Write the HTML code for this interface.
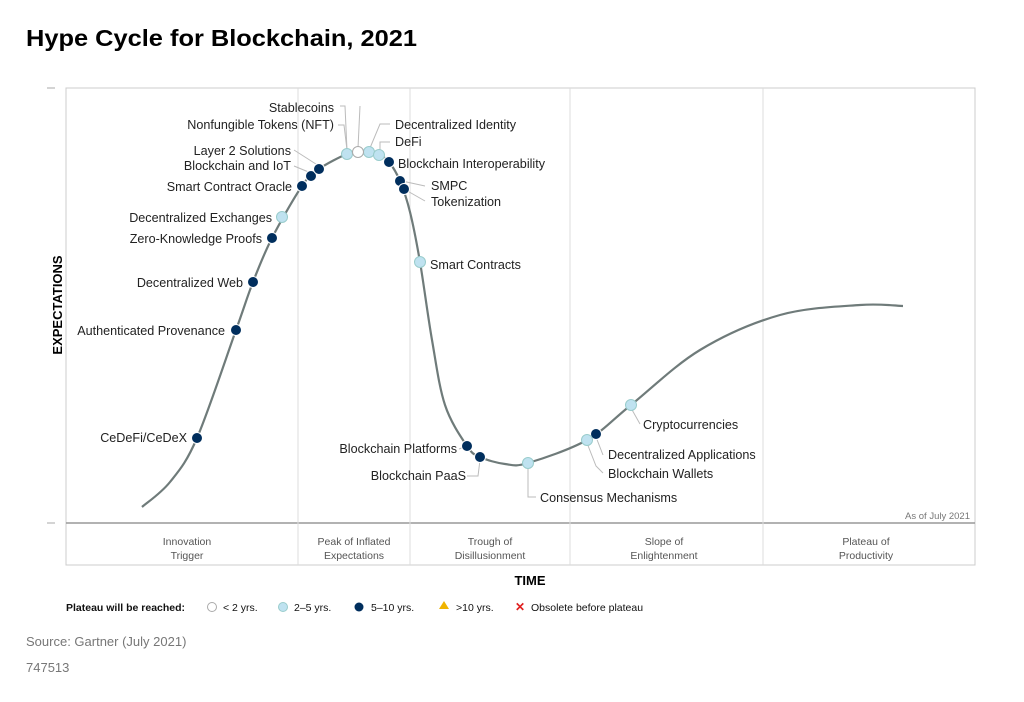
<!DOCTYPE html>
<html><head><meta charset="utf-8"><style>
body{margin:0;background:#fff;width:1024px;height:697px;overflow:hidden;font-family:"Liberation Sans",sans-serif}
</style></head><body>
<svg width="1024" height="697" viewBox="0 0 1024 697" xmlns="http://www.w3.org/2000/svg" font-family="Liberation Sans, sans-serif">
<text x="26" y="46" font-size="23.5" font-weight="bold" fill="#000" textLength="391" lengthAdjust="spacingAndGlyphs">Hype Cycle for Blockchain, 2021</text>
<rect x="66" y="88" width="909" height="477" fill="none" stroke="#ccc" stroke-width="1"/>
<line x1="66" y1="523" x2="975" y2="523" stroke="#999" stroke-width="1.5"/>
<line x1="47" y1="88" x2="55" y2="88" stroke="#aaa"/>
<line x1="47" y1="523" x2="55" y2="523" stroke="#aaa"/>
<g stroke="#ddd" stroke-width="1">
<line x1="298" y1="88" x2="298" y2="565"/>
<line x1="410" y1="88" x2="410" y2="565"/>
<line x1="570" y1="88" x2="570" y2="565"/>
<line x1="763" y1="88" x2="763" y2="565"/>
</g>
<text x="970" y="519" font-size="9.5" fill="#777" text-anchor="end">As of July 2021</text>
<g font-size="10.5" fill="#555" text-anchor="middle">
<text x="187" y="545">Innovation</text><text x="187" y="559">Trigger</text>
<text x="354" y="545">Peak of Inflated</text><text x="354" y="559">Expectations</text>
<text x="490" y="545">Trough of</text><text x="490" y="559">Disillusionment</text>
<text x="664" y="545">Slope of</text><text x="664" y="559">Enlightenment</text>
<text x="866" y="545">Plateau of</text><text x="866" y="559">Productivity</text>
</g>
<text x="530" y="585" font-size="13" font-weight="bold" text-anchor="middle">TIME</text>
<text transform="translate(62,305) rotate(-90)" font-size="13" font-weight="bold" text-anchor="middle">EXPECTATIONS</text>
<path id="curve" fill="none" stroke="#6f7b7a" stroke-width="2.2" d=""/>
<g stroke="#bbb" fill="none" stroke-width="1">
<polyline points="340,106 345,106 347,150"/>
<polyline points="338,125 344,125 347,150"/>
<polyline points="360,106 358,148"/>
<polyline points="390,124 380,124 370,148"/>
<polyline points="390,142 380,142 380,151"/>
<polyline points="294,150 319,166"/>
<polyline points="294,166 311,173"/>
<polyline points="402,181 425,186"/>
<polyline points="404,189 425,201"/>
<polyline points="459,449 467,446"/>
<polyline points="467,476 478,476 480,460"/>
<polyline points="536,497 528,497 528,466"/>
<polyline points="603,455 596,437"/>
<polyline points="603,473 596,466 587,443"/>
<polyline points="640,424 631,408"/>
</g>
<g stroke="#fff" stroke-width="1">
<g fill="#002e5d">
<circle cx="197" cy="438" r="5.5"/><circle cx="236" cy="330" r="5.5"/><circle cx="253" cy="282" r="5.5"/><circle cx="272" cy="238" r="5.5"/>
<circle cx="302" cy="186" r="5.5"/><circle cx="311" cy="176" r="5.5"/><circle cx="319" cy="169" r="5.5"/>
<circle cx="389" cy="162" r="5.5"/><circle cx="400" cy="181" r="5.5"/><circle cx="404" cy="189" r="5.5"/>
<circle cx="467" cy="446" r="5.5"/><circle cx="480" cy="457" r="5.5"/><circle cx="596" cy="434" r="5.5"/>
</g>
<g fill="#bfe2f0" stroke="#9cc">
<circle cx="282" cy="217" r="5.5"/><circle cx="347" cy="154" r="5.5"/><circle cx="369" cy="152" r="5.5"/><circle cx="379" cy="155" r="5.5"/>
<circle cx="420" cy="262" r="5.5"/><circle cx="528" cy="463" r="5.5"/><circle cx="587" cy="440" r="5.5"/><circle cx="631" cy="405" r="5.5"/>
</g>
<circle cx="358" cy="152" r="5.5" fill="#fff" stroke="#aaa"/>
</g>
<g font-size="12.6" fill="#222">
<g text-anchor="end">
<text x="187" y="442">CeDeFi/CeDeX</text>
<text x="225" y="335">Authenticated Provenance</text>
<text x="243" y="287">Decentralized Web</text>
<text x="262" y="243">Zero-Knowledge Proofs</text>
<text x="272" y="222">Decentralized Exchanges</text>
<text x="292" y="191">Smart Contract Oracle</text>
<text x="291" y="170">Blockchain and IoT</text>
<text x="291" y="155">Layer 2 Solutions</text>
<text x="334" y="129">Nonfungible Tokens (NFT)</text>
<text x="334" y="112">Stablecoins</text>
<text x="457" y="453">Blockchain Platforms</text>
<text x="466" y="480">Blockchain PaaS</text>
</g>
<text x="395" y="129">Decentralized Identity</text>
<text x="395" y="146">DeFi</text>
<text x="398" y="168">Blockchain Interoperability</text>
<text x="431" y="190">SMPC</text>
<text x="431" y="206">Tokenization</text>
<text x="430" y="269">Smart Contracts</text>
<text x="540" y="502">Consensus Mechanisms</text>
<text x="608" y="459">Decentralized Applications</text>
<text x="608" y="478">Blockchain Wallets</text>
<text x="643" y="429">Cryptocurrencies</text>
</g>
<g font-size="10.5" fill="#111">
<text x="66" y="611" font-weight="bold">Plateau will be reached:</text>
<circle cx="212" cy="607" r="4.5" fill="#fff" stroke="#aaa"/><text x="223" y="611">&lt; 2 yrs.</text>
<circle cx="283" cy="607" r="4.5" fill="#bfe2f0" stroke="#9cc"/><text x="294" y="611">2–5 yrs.</text>
<circle cx="359" cy="607" r="4.5" fill="#002e5d"/><text x="371" y="611">5–10 yrs.</text>
<polygon points="444,601 449,609 439,609" fill="#f0b400"/><text x="456" y="611">&gt;10 yrs.</text>
<text x="515" y="611" fill="#e02020" font-weight="bold" font-size="12">✕</text><text x="531" y="611">Obsolete before plateau</text>
</g>
<text x="26" y="646" font-size="13" fill="#777">Source: Gartner (July 2021)</text>
<text x="26" y="672" font-size="13" fill="#777">747513</text>
</svg>
<script>
var p=[[142,507],[170,482],[197,438],[236,330],[253,282],[272,238],[302,186],[319,169],[347,154],[363,151],[379,155],[389,162],[400,181],[410,212],[420,262],[432,340],[445,405],[467,446],[480,457],[505,464],[528,463],[587,440],[631,405],[700,350],[780,315],[860,305],[903,306]];
var d="M"+p[0][0]+","+p[0][1];
for(var i=0;i<p.length-1;i++){var a=p[Math.max(i-1,0)],b=p[i],c=p[i+1],e=p[Math.min(i+2,p.length-1)];
d+=" C"+(b[0]+(c[0]-a[0])/6)+","+(b[1]+(c[1]-a[1])/6)+" "+(c[0]-(e[0]-b[0])/6)+","+(c[1]-(e[1]-b[1])/6)+" "+c[0]+","+c[1];}
document.getElementById("curve").setAttribute("d",d);
</script>
</body></html>
